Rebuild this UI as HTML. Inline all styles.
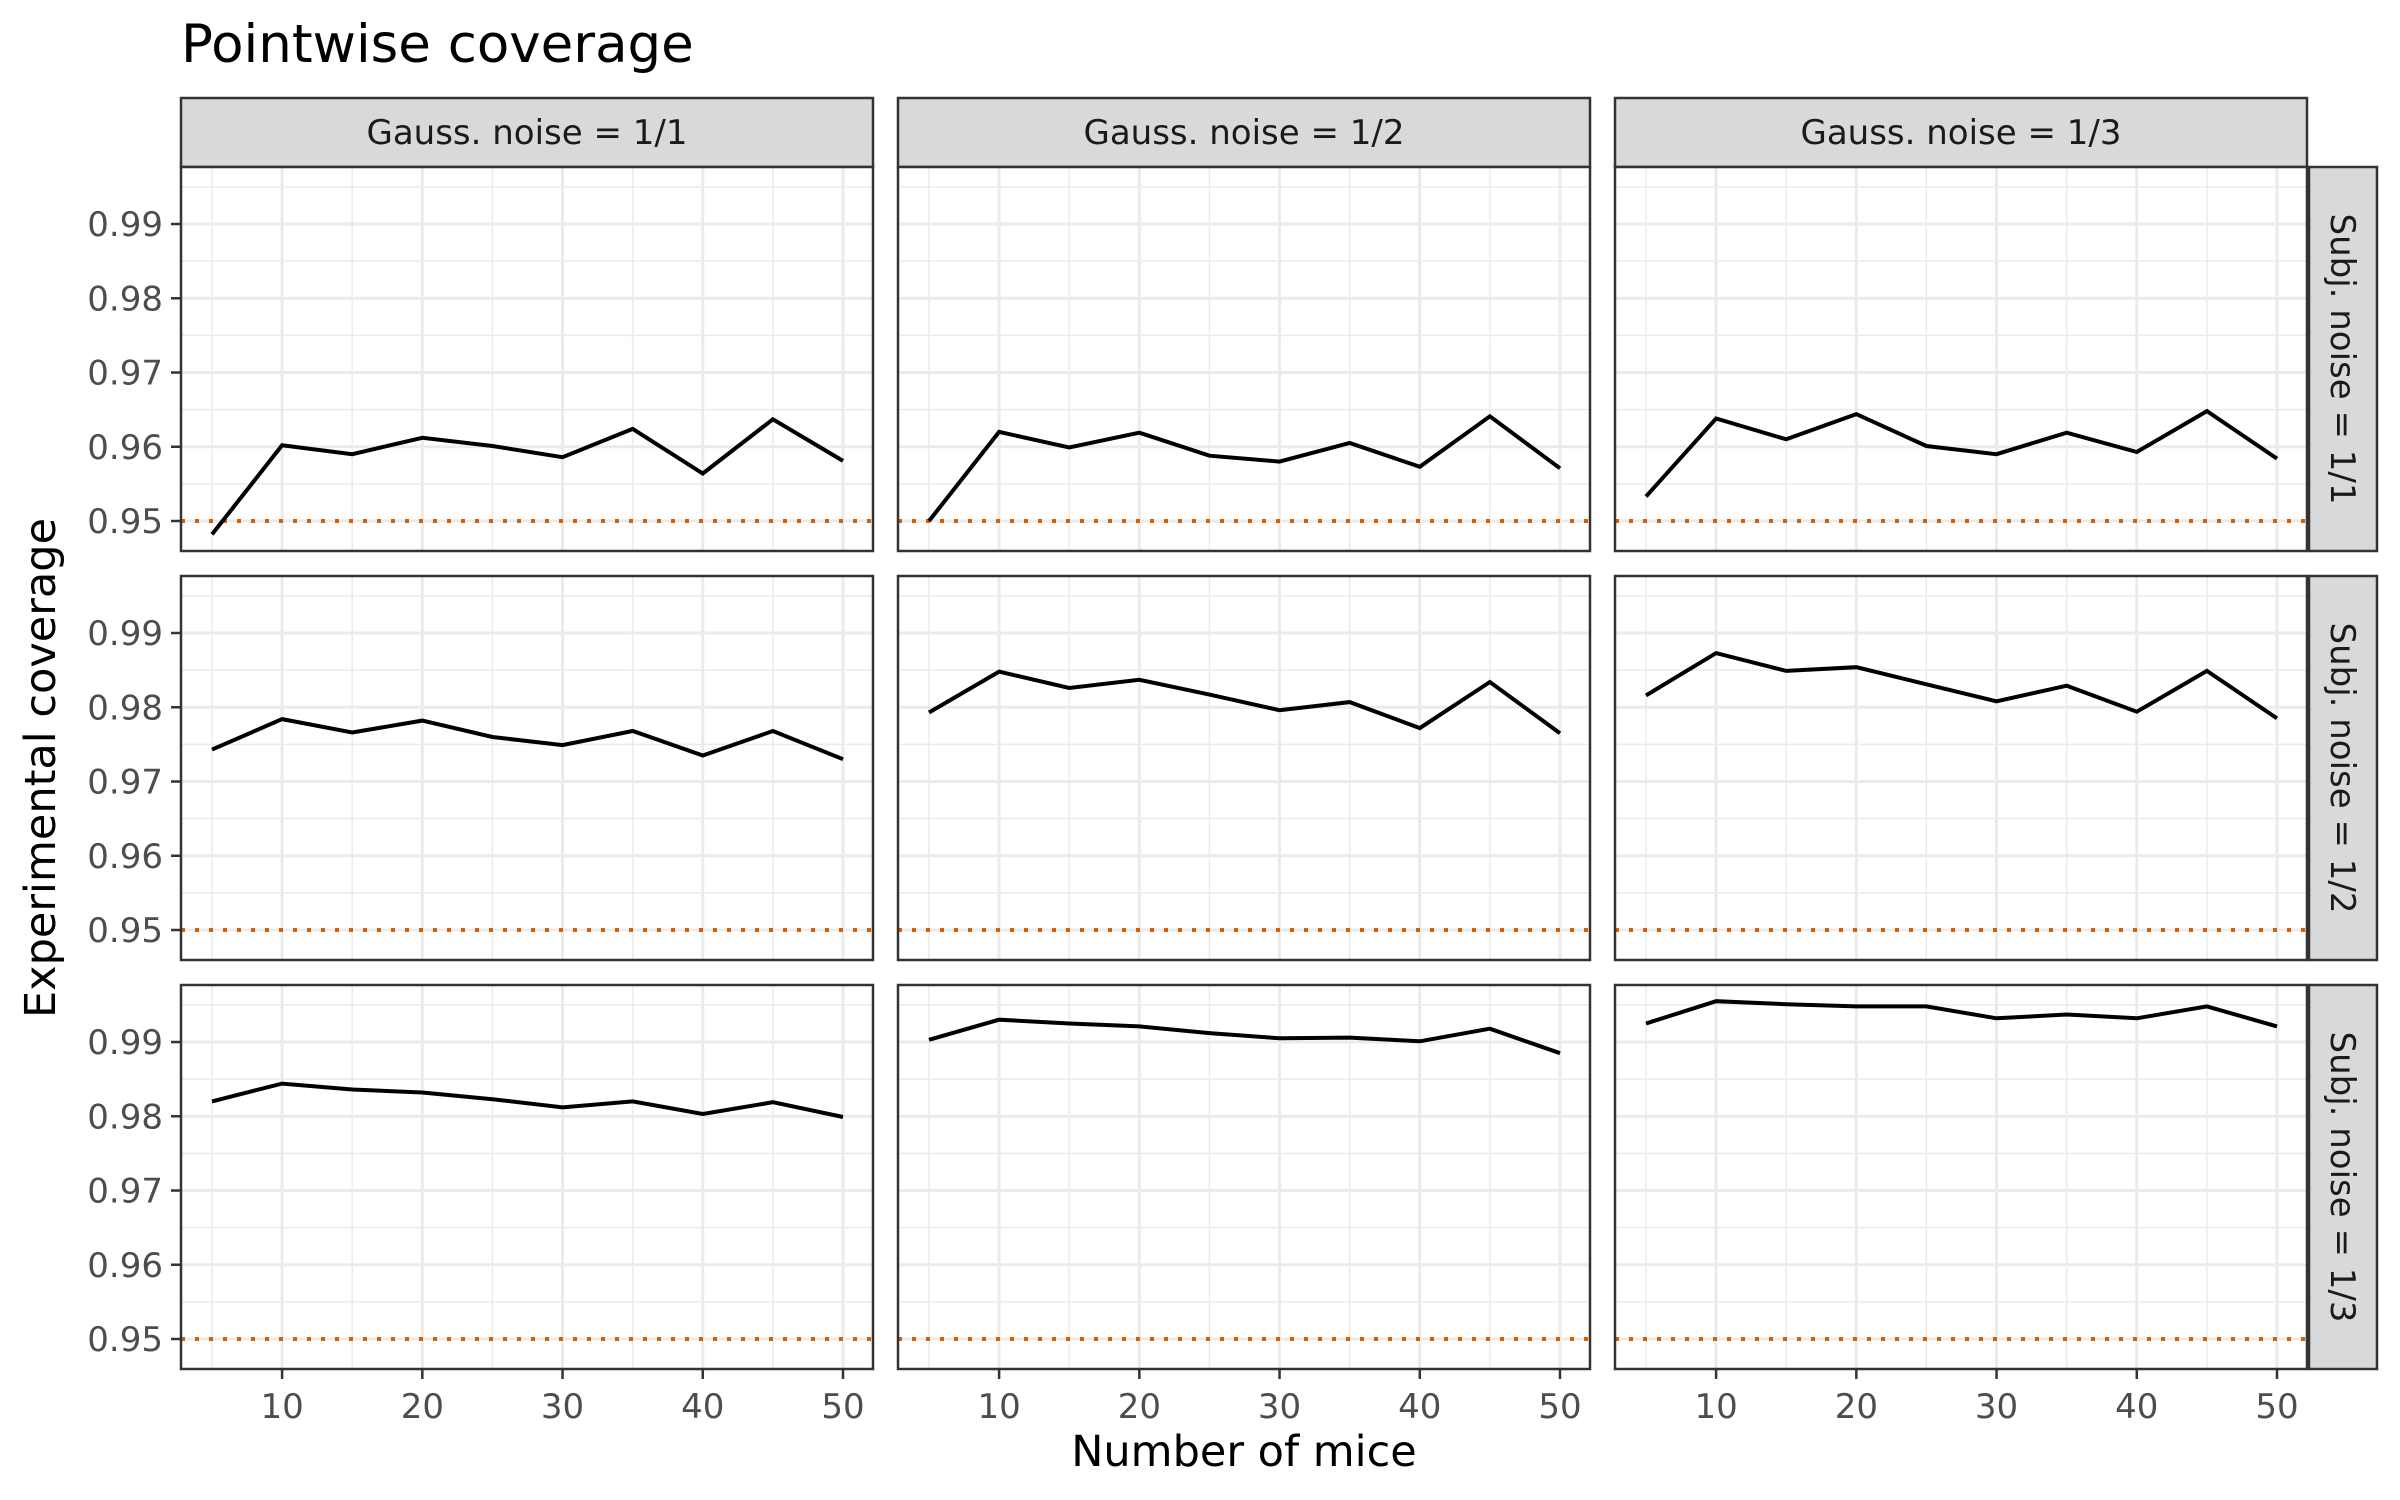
<!DOCTYPE html>
<html><head><meta charset="utf-8"><style>
html,body{margin:0;padding:0;background:#fff;}
svg{display:block;font-family:"DejaVu Sans","Liberation Sans",sans-serif;}
</style></head><body>
<svg id="chart" width="2400" height="1500" viewBox="0 0 2400 1500" xmlns="http://www.w3.org/2000/svg">
<rect width="2400" height="1500" fill="#fff"/>
<text x="181" y="62" font-size="53" fill="#000">Pointwise coverage</text>
<text x="1244" y="1466" font-size="43" text-anchor="middle" fill="#000">Number of mice</text>
<text transform="translate(55,768) rotate(-90)" font-size="43" text-anchor="middle" fill="#000">Experimental coverage</text>
<g id="panels"></g>
</svg>
<script>
const xValues = [5,10,15,20,25,30,35,40,45,50];
const colLabels = ["Gauss. noise = 1/1","Gauss. noise = 1/2","Gauss. noise = 1/3"];
const rowLabels = ["Subj. noise = 1/1","Subj. noise = 1/2","Subj. noise = 1/3"];
const yTicks = [0.95,0.96,0.97,0.98,0.99];
const yTickLabels = ["0.95","0.96","0.97","0.98","0.99"];
const xTicks = [10,20,30,40,50];
const xTickLabels = ["10","20","30","40","50"];
const referenceLevel = 0.95;
const r1c1 = [0.9482,0.9602,0.9590,0.9612,0.9601,0.9586,0.9624,0.9564,0.9637,0.9581];
const r1c2 = [0.9500,0.9620,0.9599,0.9619,0.9588,0.9580,0.9605,0.9573,0.9641,0.9571];
const r1c3 = [0.9533,0.9638,0.9610,0.9644,0.9601,0.9590,0.9619,0.9593,0.9648,0.9584];
const r2c1 = [0.9743,0.9784,0.9766,0.9782,0.9760,0.9749,0.9768,0.9735,0.9768,0.9730];
const r2c2 = [0.9793,0.9848,0.9826,0.9837,0.9817,0.9796,0.9807,0.9772,0.9834,0.9765];
const r2c3 = [0.9816,0.9873,0.9849,0.9854,0.9831,0.9808,0.9829,0.9794,0.9849,0.9785];
const r3c1 = [0.9820,0.9844,0.9836,0.9832,0.9823,0.9812,0.9820,0.9803,0.9819,0.9799];
const r3c2 = [0.9903,0.9930,0.9925,0.9921,0.9912,0.9905,0.9906,0.9901,0.9918,0.9885];
const r3c3 = [0.9925,0.9955,0.9951,0.9948,0.9948,0.9932,0.9937,0.9932,0.9948,0.9921];
const series = [[r1c1,r1c2,r1c3],[r2c1,r2c2,r2c3],[r3c1,r3c2,r3c3]];

const NS="http://www.w3.org/2000/svg";
const root=document.getElementById('panels');
const colX=[181,898,1615], pw=692;
const rowY=[167,576,985], ph=384;
const xMin=2.79, xMax=52.14, yMin=0.94596, yMax=0.99768;
function mk(tag,attrs,parent){const e=document.createElementNS(NS,tag);for(const k in attrs)e.setAttribute(k,attrs[k]);(parent||root).appendChild(e);return e;}
function sx(c,v){return colX[c]+(v-xMin)/(xMax-xMin)*pw;}
function sy(r,v){return rowY[r]+ph-(v-yMin)/(yMax-yMin)*ph;}

for(let c=0;c<3;c++){
  const st=mk('rect',{x:colX[c],y:98,width:pw,height:69,fill:'#d9d9d9',stroke:'#333','stroke-width':2.5});
  
  
  const t=mk('text',{x:colX[c]+pw/2,y:144,'font-size':34,'text-anchor':'middle',fill:'#1a1a1a'});
  t.textContent=colLabels[c];
  
  
}
for(let r=0;r<3;r++){
  const st=mk('rect',{x:2309,y:rowY[r],width:68,height:ph,fill:'#d9d9d9',stroke:'#333','stroke-width':2.5});
  
  
  const cy=rowY[r]+ph/2;
  const t=mk('text',{x:0,y:0,'font-size':34,'text-anchor':'middle',fill:'#1a1a1a',transform:`translate(2331,${cy}) rotate(90)`});
  t.textContent=rowLabels[r];
  
  
  yTicks.forEach((v,i)=>{
    const y=sy(r,v);
    const tk=mk('line',{x1:171,x2:181,y1:y,y2:y,stroke:'#333','stroke-width':2.5});
    
    
    const tl=mk('text',{x:163,y:y+12,'font-size':34,'text-anchor':'end',fill:'#4d4d4d'});
    tl.textContent=yTickLabels[i];
    
    
  });
  for(let c=0;c<3;c++){
    const g=mk('g',{});
    
    
    mk('rect',{x:colX[c],y:rowY[r],width:pw,height:ph,fill:'#fff'},g);
    for(let i=0;i<yTicks.length;i++){const y=sy(r,yTicks[i]+0.005);if(y>rowY[r])mk('line',{x1:colX[c],x2:colX[c]+pw,y1:y,y2:y,stroke:'#ebebeb','stroke-width':1.5},g);}
    {const y=sy(r,0.945);if(y<rowY[r]+ph)mk('line',{x1:colX[c],x2:colX[c]+pw,y1:y,y2:y,stroke:'#ebebeb','stroke-width':1.5},g);}
    [5,15,25,35,45].forEach(v=>{const x=sx(c,v);mk('line',{x1:x,x2:x,y1:rowY[r],y2:rowY[r]+ph,stroke:'#ebebeb','stroke-width':1.5},g);});
    yTicks.forEach(v=>{const y=sy(r,v);mk('line',{x1:colX[c],x2:colX[c]+pw,y1:y,y2:y,stroke:'#ebebeb','stroke-width':3},g);});
    xTicks.forEach(v=>{const x=sx(c,v);mk('line',{x1:x,x2:x,y1:rowY[r],y2:rowY[r]+ph,stroke:'#ebebeb','stroke-width':3},g);});
    const ry=sy(r,referenceLevel);
    const ref=mk('line',{x1:colX[c],x2:colX[c]+pw,y1:ry,y2:ry,stroke:'#d95f02','stroke-width':4,'stroke-dasharray':'4 10'},g);
    
    
    const pts=series[r][c].map((v,i)=>sx(c,xValues[i]).toFixed(1)+','+sy(r,v).toFixed(1)).join(' ');
    const pl=mk('polyline',{points:pts,fill:'none',stroke:'#000','stroke-width':4,'stroke-linejoin':'miter'},g);
    
    
    mk('rect',{x:colX[c],y:rowY[r],width:pw,height:ph,fill:'none',stroke:'#333','stroke-width':2.5},g);
  }
}
for(let c=0;c<3;c++){
  xTicks.forEach((v,i)=>{
    const x=sx(c,v), y0=rowY[2]+ph;
    const tk=mk('line',{x1:x,x2:x,y1:y0,y2:y0+10,stroke:'#333','stroke-width':2.5});
    
    
    const tl=mk('text',{x:x,y:1418,'font-size':34,'text-anchor':'middle',fill:'#4d4d4d'});
    tl.textContent=xTickLabels[i];
    
    
  });
}
</script>
</body></html>
